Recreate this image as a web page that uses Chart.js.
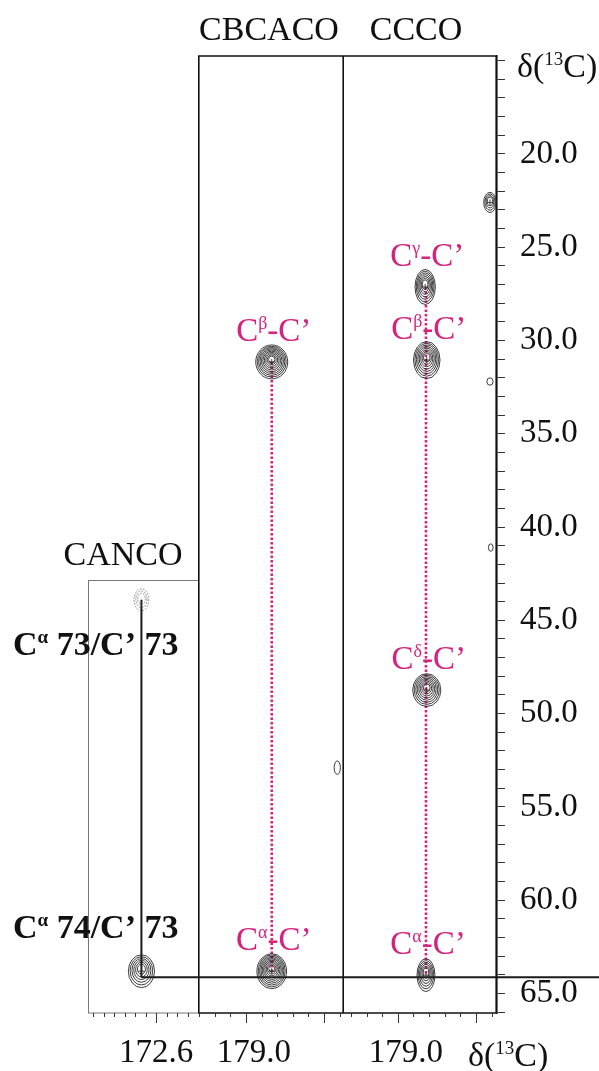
<!DOCTYPE html>
<html>
<head>
<meta charset="utf-8">
<script src="https://cdn.jsdelivr.net/npm/chart.js@4.4.1/dist/chart.umd.min.js"></script>
<style>
    body { margin: 0; background: #fff; }
    #page { position: relative; width: 599px; height: 1071px; }
    canvas { position: absolute; top: 0; }
    #canco { left: 0; }
    #cbcaco { left: 198px; }
    #ccco { left: 344px; }
</style>
</head>
<body>
<div id="page">
    <canvas id="canco" width="198" height="1071"></canvas>
    <canvas id="cbcaco" width="146" height="1071"></canvas>
    <canvas id="ccco" width="255" height="1071"></canvas>
</div>
<script>
// cross peaks per strip, shifts in ppm (x = C', y = aliphatic 13C)
// hx / hy = half line widths in ppm, levels = contour levels above the floor
const cancoPeaks = [
    { x: 172.88, y: 63.81, hx: 0.25, hy: 0.88, levels: 6 },
    { x: 172.88, y: 43.90, hx: 0.14, hy: 0.59, levels: 3, negative: true },
];
const cbcacoPeaks = [
    { x: 178.67, y: 31.15, hx: 0.205, hy: 0.91, levels: 10, label: "β" },
    { x: 178.67, y: 63.81, hx: 0.19, hy: 0.94, levels: 10, label: "α" },
    { x: 177.83, y: 52.90, hx: 0.04, hy: 0.36, levels: 1 },
];
const cccoPeaks = [
    { x: 178.65, y: 27.13, hx: 0.13, hy: 0.94, levels: 7, label: "γ" },
    { x: 178.63, y: 31.05, hx: 0.17, hy: 0.99, levels: 8, label: "β" },
    { x: 178.63, y: 48.74, hx: 0.18, hy: 0.88, levels: 8, label: "δ" },
    { x: 178.64, y: 64.02, hx: 0.115, hy: 0.88, levels: 6, label: "α" },
    { x: 177.82, y: 22.60, hx: 0.08, hy: 0.54, levels: 4 },
    { x: 177.82, y: 32.20, hx: 0.04, hy: 0.20, levels: 1 },
    { x: 177.81, y: 41.10, hx: 0.03, hy: 0.20, levels: 1 },
];

// sequential walk: CANCO links C'73 from Ca73 to Ca74, then the side chain strips
const cancoWalk = [{ x: 172.88, y: 43.90 }, { x: 172.88, y: 64.14 }];
const cbcacoWalk = [{ x: 178.67, y: 31.15 }, { x: 178.67, y: 63.81 }];
const cccoWalk = [{ x: 178.64, y: 27.13 }, { x: 178.64, y: 64.02 }];
const matchShift = 64.14;

// tick labels
const shiftLabels = [20, 25, 30, 35, 40, 45, 50, 55, 60, 65];
const cancoLabels = [172.6];
const cbcacoLabels = [179.0];
const cccoLabels = [179.0];
const cancoMajor = [172.6];
const cbcacoMajor = [179.0, 178.0];
const cccoMajor = [179.0, 178.0];

const MAGENTA = "rgb(214, 36, 126)";
const SERIF = "'Liberation Serif', 'Times New Roman', serif";

function round1 (v) { return Math.round(v * 10) / 10; }

function stepTicks (from, to, step)
{
    const res = [];
    for (let v = from; v <= to + 1e-9; v += step) res.push({ value: round1(v) });
    return res;
}

// text with superscripts, parts = [[text, isSup], ...]
function drawRich (ctx, parts, x, y, size, align, weight)
{
    const supSize = Math.round(size * 0.55);
    const w = weight || "";
    let total = 0;
    parts.forEach(([t, sup]) => {
        ctx.font = `${w} ${sup ? supSize : size}px ${SERIF}`;
        total += ctx.measureText(t).width;
    });
    let px = align === "center" ? x - total / 2 : (align === "right" ? x - total : x);
    ctx.textAlign = "left";
    ctx.textBaseline = "alphabetic";
    parts.forEach(([t, sup]) => {
        ctx.font = `${w} ${sup ? supSize : size}px ${SERIF}`;
        ctx.fillText(t, px, sup ? y - size * 0.36 : y);
        px += ctx.measureText(t).width;
    });
}

function drawPeak (ctx, xs, ys, p)
{
    const cx = xs.getPixelForValue(p.x);
    const cy = ys.getPixelForValue(p.y);
    const rx = Math.abs(xs.getPixelForValue(p.x + p.hx) - cx);
    const ry = Math.abs(ys.getPixelForValue(p.y + p.hy) - cy);
    ctx.save();
    ctx.strokeStyle = p.negative ? "#7a7a7a" : "#262626";
    ctx.lineWidth = p.negative ? 1 : 0.9;
    if (p.negative) ctx.setLineDash([1.5, 1.5]);
    for (let k = 0; k < p.levels; k++)
    {
        const f = 1 - k / (p.levels + 1.2);
        ctx.beginPath();
        ctx.ellipse(cx, cy - (1 - f) * ry * 0.18, rx * f, ry * f, 0, 0, Math.PI * 2);
        ctx.stroke();
    }
    if (p.levels > 3 && !p.negative)
    {
        ctx.beginPath();
        ctx.moveTo(cx - 3, cy); ctx.lineTo(cx + 3, cy);
        ctx.moveTo(cx, cy - 3); ctx.lineTo(cx, cy + 3);
        ctx.stroke();
    }
    ctx.restore();
}

// open frame, sides = which of left / top / right / bottom get a line
function drawFrame (chart, top, color, width, sides)
{
    const ctx = chart.ctx;
    const area = chart.chartArea;
    const h = width / 2;
    const l = area.left + h, r = area.right - h, b = area.bottom;
    ctx.save();
    ctx.strokeStyle = color;
    ctx.lineWidth = width;
    ctx.beginPath();
    if (sides.includes("left")) { ctx.moveTo(l, top); ctx.lineTo(l, b); }
    if (sides.includes("top")) { ctx.moveTo(l - h, top); ctx.lineTo(r + h, top); }
    if (sides.includes("right")) { ctx.moveTo(r, top); ctx.lineTo(r, b); }
    if (sides.includes("bottom")) { ctx.moveTo(l - h, b); ctx.lineTo(r + h, b); }
    ctx.stroke();
    ctx.restore();
}

function drawMatchLine (chart, fromX)
{
    const ctx = chart.ctx;
    const my = chart.scales.y.getPixelForValue(matchShift);
    ctx.save();
    ctx.strokeStyle = "#1a1a1a";
    ctx.lineWidth = 2;
    ctx.beginPath();
    ctx.moveTo(fromX, my);
    ctx.lineTo(chart.width, my);
    ctx.stroke();
    ctx.restore();
}

function drawXTicks (chart, majors)
{
    const ctx = chart.ctx;
    const xs = chart.scales.x;
    const bottom = chart.chartArea.bottom;
    ctx.save();
    ctx.strokeStyle = "#333";
    ctx.lineWidth = 1;
    xs.ticks.forEach(t => {
        const px = Math.round(xs.getPixelForValue(t.value)) + 0.5;
        const len = majors.includes(round1(t.value)) ? 10 : 4;
        ctx.beginPath();
        ctx.moveTo(px, bottom);
        ctx.lineTo(px, bottom + len);
        ctx.stroke();
    });
    ctx.restore();
}

function drawLabels (chart, peaks)
{
    const ctx = chart.ctx;
    ctx.save();
    ctx.fillStyle = MAGENTA;
    peaks.filter(p => p.label).forEach(p => {
        const px = chart.scales.x.getPixelForValue(p.x) + 2;
        const py = chart.scales.y.getPixelForValue(p.y) - 21;
        drawRich(ctx, [["C", false], [p.label, true], ["-C\u2019", false]], px, py, 33, "center");
    });
    ctx.restore();
}

function drawTitle (chart, text, x, y)
{
    const ctx = chart.ctx;
    ctx.save();
    ctx.fillStyle = "#111";
    ctx.font = `34px ${SERIF}`;
    ctx.textAlign = "center";
    ctx.textBaseline = "alphabetic";
    ctx.fillText(text, x, y);
    ctx.restore();
}

function xScale (min, max, ticks, labels, offset)
{
    return {
        type: "linear",
        position: "bottom",
        reverse: true,
        min: min,
        max: max,
        border: { display: false },
        grid: { display: true, drawOnChartArea: false, tickLength: 10, tickColor: "rgba(0,0,0,0)" },
        afterBuildTicks: axis => { axis.ticks = ticks; },
        afterFit: axis => { axis.height = 58; },
        ticks: {
            autoSkip: false,
            maxRotation: 0,
            padding: 11,
            labelOffset: offset,
            color: "#111",
            font: { size: 33, family: SERIF },
            callback: value => labels.includes(round1(value)) ? value.toFixed(1) : "",
        },
    };
}

function yScale (display)
{
    const scale = {
        type: "linear",
        position: "right",
        reverse: true,
        min: 14.75,
        max: 66.05,
        display: display,
        border: { display: true, color: "#111", width: 1.6 },
        grid: { display: true, drawOnChartArea: false, tickLength: 8, tickColor: "#333", tickWidth: 1 },
        afterBuildTicks: axis => { axis.ticks = stepTicks(15, 66, 1); },
        ticks: {
            autoSkip: false,
            padding: 15,
            color: "#111",
            font: { size: 33, family: SERIF },
            callback: value => shiftLabels.includes(value) ? value.toFixed(1) : "",
        },
    };
    if (display) scale.afterFit = axis => { axis.width = 102; };
    return scale;
}

function walkDataset (data, color, dashed)
{
    return {
        data: data,
        showLine: true,
        borderColor: color,
        borderWidth: dashed ? 2.6 : 2,
        borderDash: dashed ? [2.5, 2] : [],
        pointRadius: 0,
    };
}

function stripChart (id, dataset, x, showY, padLeft, decorate)
{
    return new Chart(document.getElementById(id), {
        type: "scatter",
        data: { datasets: [dataset] },
        options: {
            responsive: false,
            animation: false,
            layout: { padding: { left: padLeft, top: 56, right: 0, bottom: 0 } },
            plugins: { legend: { display: false }, tooltip: { enabled: false } },
            scales: { x: x, y: yScale(showY) },
        },
        plugins: [{ id: "decor", afterDatasetsDraw: decorate }],
    });
}

// CANCO strip, with the sequential assignments on its left
stripChart("canco", walkDataset(cancoWalk, "#1a1a1a", false),
    xScale(171.80, 173.90, stepTicks(171.8, 173.8, 0.2), cancoLabels, 0), false, 88,
    chart => {
        const ctx = chart.ctx;
        drawFrame(chart, 580.5, "#777", 1, ["left", "top", "bottom"]);
        drawMatchLine(chart, chart.scales.x.getPixelForValue(cancoWalk[1].x));
        cancoPeaks.forEach(p => drawPeak(ctx, chart.scales.x, chart.scales.y, p));
        drawXTicks(chart, cancoMajor);
        drawTitle(chart, "CANCO", 123, 565);
        ctx.save();
        ctx.fillStyle = "#111";
        drawRich(ctx, [["C", false], ["\u03B1", true], [" 73/C\u2019 73", false]], 13, 655, 34, "left", "bold");
        drawRich(ctx, [["C", false], ["\u03B1", true], [" 74/C\u2019 73", false]], 13, 938, 34, "left", "bold");
        ctx.restore();
    });

stripChart("cbcaco", walkDataset(cbcacoWalk, MAGENTA, true),
    xScale(177.744, 179.615, stepTicks(177.8, 179.6, 0.2), cbcacoLabels, 8), false, 0,
    chart => {
        drawFrame(chart, chart.chartArea.top, "#111", 1.6, ["left", "top", "right", "bottom"]);
        drawMatchLine(chart, 0);
        cbcacoPeaks.forEach(p => drawPeak(chart.ctx, chart.scales.x, chart.scales.y, p));
        drawLabels(chart, cbcacoPeaks);
        drawXTicks(chart, cbcacoMajor);
        drawTitle(chart, "CBCACO", 71, 40);
    });

stripChart("ccco", walkDataset(cccoWalk, MAGENTA, true),
    xScale(177.73, 179.69, stepTicks(177.8, 179.6, 0.2), cccoLabels, 8), true, 0,
    chart => {
        const ctx = chart.ctx;
        drawFrame(chart, chart.chartArea.top, "#111", 1.6, ["top", "right", "bottom"]);
        drawMatchLine(chart, 0);
        cccoPeaks.forEach(p => drawPeak(ctx, chart.scales.x, chart.scales.y, p));
        drawLabels(chart, cccoPeaks);
        drawXTicks(chart, cccoMajor);
        drawTitle(chart, "CCCO", 72, 40);
        ctx.save();
        ctx.fillStyle = "#111";
        const dParts = [["\u03B4(", false], ["13", true], ["C)", false]];
        drawRich(ctx, dParts, chart.scales.y.left + 20, 77, 34, "left");
        drawRich(ctx, dParts, 124, 1066, 34, "left");
        ctx.restore();
    });
</script>
</body>
</html>
